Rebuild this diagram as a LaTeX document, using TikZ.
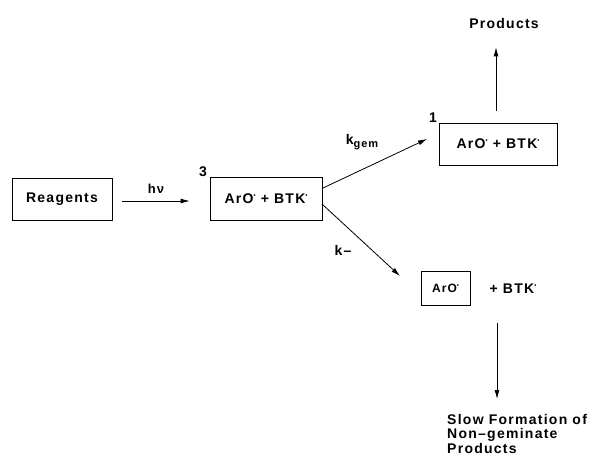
\documentclass[tikz,border=0pt]{standalone}
\usepackage{fontspec}
\setmainfont{Liberation Sans}[LetterSpace=9]
\usetikzlibrary{arrows.meta,positioning,calc}
\newcommand{\rdot}{\raisebox{0.8ex}{\fontsize{6}{6}\selectfont\textbullet}}
\tikzset{
  base/.style={font=\fontsize{14}{15}\selectfont\bfseries,inner sep=0pt},
  box/.style={base,draw,line width=0.8pt},
  small/.style={font=\fontsize{12}{13}\selectfont\bfseries,inner sep=0pt},
  arrow/.style={-{Latex[length=9pt,width=5pt]},line width=0.8pt}
}
\begin{document}
\begin{tikzpicture}[x=1pt,y=-1pt]
\useasboundingbox (0,0) rectangle (593,457);

% boxes
\node[box,minimum width=100pt,minimum height=42pt] (reag) at (62,199) {Reagents};
\node[box,minimum width=112pt,minimum height=43pt] (trip) at (266,198.5) {ArO\rdot{} + BTK\rdot};
\node[box,minimum width=118pt,minimum height=42pt] (sing) at (498,144) {ArO\rdot{} + BTK\rdot};
\node[box,small,minimum width=49pt,minimum height=34pt] (free) at (445.5,288) {ArO\rdot};
\node[base] (btk) at (513,289) {+ BTK\rdot};

% multiplicities
\node[base] (three) at (203,172) {3};
\node[base] (one) at (433,118) {1};

% products
\node[base] (prod) at (504,23) {Products};
\node[base,anchor=north west,align=left,font=\fontsize{14}{14.5}\selectfont\bfseries] (slow) at (447,414)
  {Slow Formation of\\Non--geminate\\Products};

% connector ends
\coordinate (gemstart) at (323,188);
\coordinate (gemend) at (427,139);
\coordinate (sepstart) at (322,204);
\coordinate (sepend) at (400,276);
\coordinate (upstart) at (496,111);
\coordinate (downstart) at (497,323);
\coordinate (downend) at (497,399);

\draw[arrow] (reag.east) ++(10,2) -- ($(trip.west)+(-20,2.5)$) node[midway,above=7pt,small,font=\fontsize{13}{14}\selectfont\bfseries] (hv) {hν};
\draw[arrow] (gemstart) -- (gemend);
\draw[arrow] (sepstart) -- (sepend);
\draw[arrow,shorten >=19pt] (upstart) -- (upstart |- prod.south);
\draw[arrow] (downstart) -- (downend);

% rate labels
\node[base] (kgem) at (362,142) {k\raisebox{-3pt}{\fontsize{11}{12}\selectfont gem}};
\node[base] (kmin) at (343,250) {k--};

\end{tikzpicture}
\end{document}
